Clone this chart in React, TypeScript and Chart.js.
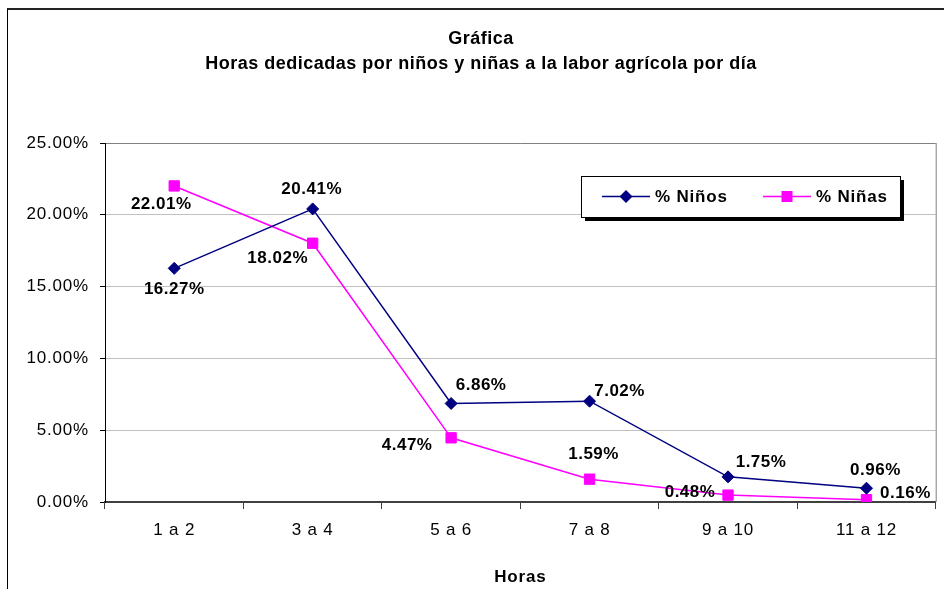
import { useEffect, useRef } from 'react';
import { Chart, registerables } from 'chart.js';

Chart.register(...registerables);

const categories = ['1 a 2', '3 a 4', '5 a 6', '7 a 8', '9 a 10', '11 a 12'];
const ninos = [16.27, 20.41, 6.86, 7.02, 1.75, 0.96];
const ninas = [22.01, 18.02, 4.47, 1.59, 0.48, 0.16];
const seriesNames = ['% Niños', '% Niñas'];
const titleLines = ['Gráfica', 'Horas dedicadas por niños y niñas a la labor agrícola por día'];
const xTitle = 'Horas';
const yMin = 0;
const yMax = 25;
const yStep = 5;

// label placement offsets (px) relative to each point
const ninosLabelOffsets = [[0, 21], [-1, -20], [30, -18], [30, -10], [33, -15], [9, -18]];
const ninasLabelOffsets = [[-13, 18], [-35, 15], [-44, 8], [4, -25], [-38, -3], [39, -6]];

const FONT = "'Liberation Sans', Arial, Helvetica, sans-serif";
const NAVY = '#000080';
const MAGENTA = '#FF00FF';

const spacingPlugin = {
  id: 'spacing',
  beforeDraw(chart: any) {
    chart.ctx.letterSpacing = '0.8px';
  },
};

const framePlugin = {
  id: 'frame',
  beforeDraw(chart: any) {
    const ctx = chart.ctx;
    ctx.save();
    ctx.fillStyle = '#ffffff';
    ctx.fillRect(0, 0, chart.width, chart.height);
    ctx.strokeStyle = '#222222';
    ctx.lineWidth = 2;
    ctx.beginPath();
    ctx.moveTo(7, 9);
    ctx.lineTo(chart.width, 9);
    ctx.stroke();
    ctx.strokeStyle = '#000000';
    ctx.lineWidth = 1;
    ctx.beginPath();
    ctx.moveTo(7.5, 9);
    ctx.lineTo(7.5, chart.height);
    ctx.stroke();
    ctx.restore();
  },
  afterDraw(chart: any) {
    const ctx = chart.ctx;
    const a = chart.chartArea;
    ctx.save();
    ctx.strokeStyle = '#808080';
    ctx.lineWidth = 1;
    ctx.beginPath();
    ctx.moveTo(a.right + 0.5, a.top);
    ctx.lineTo(a.right + 0.5, a.bottom);
    ctx.stroke();
    // title
    ctx.fillStyle = '#000';
    ctx.font = `bold 18px ${FONT}`;
    ctx.letterSpacing = '0.5px';
    ctx.textAlign = 'center';
    ctx.textBaseline = 'alphabetic';
    ctx.fillText(titleLines[0], 481, 43.5);
    ctx.fillText(titleLines[1], 481, 68.5);
    ctx.restore();
  },
};

const labelsPlugin = {
  id: 'pointLabels',
  afterDatasetsDraw(chart: any) {
    const ctx = chart.ctx;
    const offsets = [ninosLabelOffsets, ninasLabelOffsets];
    ctx.save();
    ctx.fillStyle = '#000';
    ctx.font = `bold 17px ${FONT}`;
    ctx.letterSpacing = '0.5px';
    ctx.textAlign = 'center';
    ctx.textBaseline = 'middle';
    chart.data.datasets.forEach((ds: any, di: number) => {
      const meta = chart.getDatasetMeta(di);
      meta.data.forEach((el: any, i: number) => {
        const v = ds.data[i] as number;
        const [dx, dy] = offsets[di][i];
        ctx.fillText(v.toFixed(2) + '%', el.x + dx, el.y + dy);
      });
    });
    ctx.restore();
  },
};

const legendPlugin = {
  id: 'customLegend',
  afterDraw(chart: any) {
    const ctx = chart.ctx;
    const bx = 581, by = 176, bw = 319, bh = 41;
    ctx.save();
    ctx.fillStyle = '#000';
    ctx.fillRect(bx + 4, by + 4, bw, bh);
    ctx.fillStyle = '#fff';
    ctx.fillRect(bx, by, bw, bh);
    ctx.strokeStyle = '#000';
    ctx.lineWidth = 1;
    ctx.strokeRect(bx + 0.5, by + 0.5, bw, bh);
    const cy = by + 20.5;
    // Niños
    ctx.strokeStyle = NAVY;
    ctx.lineWidth = 1.5;
    ctx.beginPath();
    ctx.moveTo(602, cy);
    ctx.lineTo(650, cy);
    ctx.stroke();
    ctx.fillStyle = NAVY;
    ctx.beginPath();
    ctx.moveTo(626 - 6.5, cy);
    ctx.lineTo(626, cy - 6.5);
    ctx.lineTo(626 + 6.5, cy);
    ctx.lineTo(626, cy + 6.5);
    ctx.closePath();
    ctx.fill();
    // Niñas
    ctx.strokeStyle = MAGENTA;
    ctx.beginPath();
    ctx.moveTo(763, cy);
    ctx.lineTo(811, cy);
    ctx.stroke();
    ctx.fillStyle = MAGENTA;
    ctx.fillRect(787 - 5.5, cy - 5.5, 11, 11);
    ctx.fillStyle = '#000';
    ctx.font = `bold 17px ${FONT}`;
    ctx.letterSpacing = '0.8px';
    ctx.textAlign = 'left';
    ctx.textBaseline = 'middle';
    ctx.fillText(seriesNames[0], 655, cy + 0.5);
    ctx.fillText(seriesNames[1], 816, cy + 0.5);
    ctx.restore();
  },
};

export default function App() {
  const ref = useRef<HTMLCanvasElement>(null);
  useEffect(() => {
    const canvas = ref.current;
    if (!canvas) return;
    const chart = new Chart(canvas, {
      type: 'line',
      data: {
        labels: categories,
        datasets: [
          {
            label: seriesNames[0],
            data: ninos,
            borderColor: NAVY,
            backgroundColor: NAVY,
            borderWidth: 1.5,
            pointStyle: 'rectRot',
            pointRadius: 6,
            pointBorderWidth: 1,
            pointBackgroundColor: NAVY,
            pointBorderColor: NAVY,
            tension: 0,
            fill: false,
          },
          {
            label: seriesNames[1],
            data: ninas,
            borderColor: MAGENTA,
            backgroundColor: MAGENTA,
            borderWidth: 1.5,
            pointStyle: 'rect',
            pointRadius: 7.3,
            pointBorderWidth: 1,
            pointBackgroundColor: MAGENTA,
            pointBorderColor: MAGENTA,
            tension: 0,
            fill: false,
          },
        ],
      },
      options: {
        animation: false,
        responsive: false,
        devicePixelRatio: 1,
        layout: { padding: { left: 0, right: 7, top: 143, bottom: 0 } },
        plugins: {
          legend: { display: false },
          title: { display: false },
          tooltip: { enabled: false },
        },
        scales: {
          x: {
            type: 'category',
            offset: true,
            grid: {
              offset: true,
              drawOnChartArea: false,
              drawTicks: true,
              tickLength: 7,
              tickColor: '#404040',
              lineWidth: 1,
            },
            border: { display: true, color: '#404040', width: 2 },
            ticks: {
              color: '#000',
              font: { family: FONT, size: 17 },
              padding: 11,
              maxRotation: 0,
              autoSkip: false,
            },
            title: {
              display: true,
              text: xTitle,
              color: '#000',
              font: { family: FONT, size: 17, weight: 'bold' },
              padding: { top: 0, bottom: 1 },
            },
            afterFit: (s: any) => {
              s.height = 87;
            },
          },
          y: {
            min: yMin,
            max: yMax,
            ticks: {
              stepSize: yStep,
              callback: (v: any) => Number(v).toFixed(2) + '%',
              color: '#000',
              font: { family: FONT, size: 17 },
              padding: 11,
            },
            grid: {
              color: (c: any) => {
                const v = c.tick ? c.tick.value : null;
                if (v === yMax) return '#808080';
                if (v === yMin) return '#404040';
                return '#c0c0c0';
              },
              tickColor: '#000',
              tickLength: 5,
              lineWidth: 1,
            },
            border: { display: true, color: '#000', width: 1 },
            afterFit: (s: any) => {
              s.width = 105;
            },
          },
        },
      } as any,
      plugins: [spacingPlugin, framePlugin, labelsPlugin, legendPlugin],
    });
    return () => chart.destroy();
  }, []);
  return (
    <div
      style={{
        position: 'absolute',
        left: 0,
        top: 0,
        width: 944,
        height: 589,
        overflow: 'hidden',
        background: '#fff',
      }}
    >
      <canvas ref={ref} width={944} height={589} style={{ display: 'block', width: 944, height: 589 }} />
    </div>
  );
}
